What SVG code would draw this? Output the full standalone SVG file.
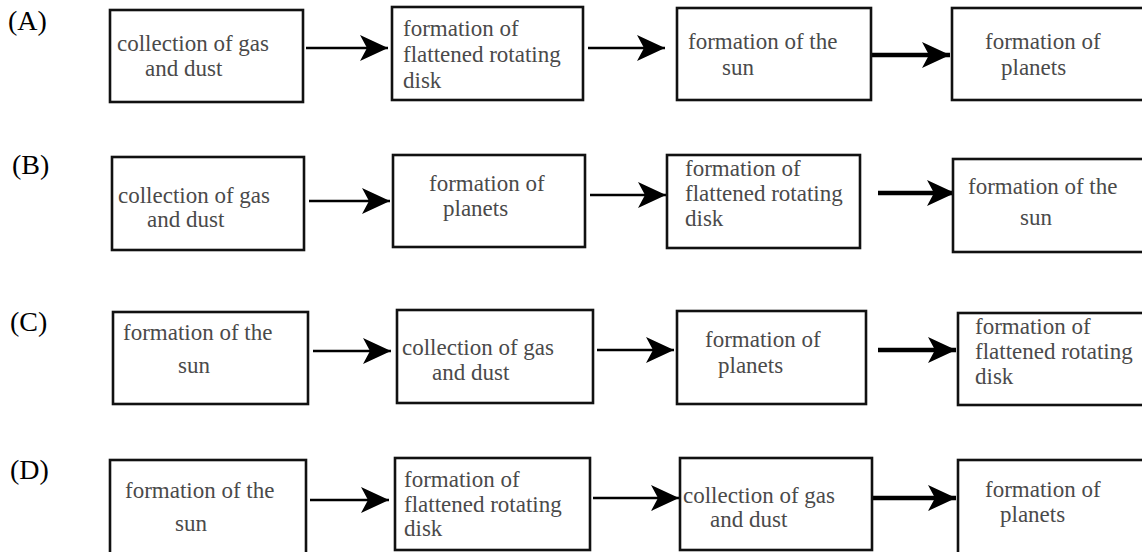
<svg xmlns="http://www.w3.org/2000/svg" width="1142" height="552" viewBox="0 0 1142 552">
<style>
.box{fill:#fff;stroke:#111;stroke-width:2.6}
.t{font-size:23px;fill:#4a4a4a}
.lbl{font-size:28px;fill:#000}
.c{stroke:#000;stroke-width:2.5;fill:none}
.ck{stroke:#000;stroke-width:4.5;fill:none}
</style>
<defs>
<marker id="ah" markerUnits="userSpaceOnUse" markerWidth="30" markerHeight="28" refX="28" refY="13" orient="auto">
<path d="M0,0 L28,13 L0,26 L7,13 Z" fill="#000"/>
</marker>
</defs>
<rect width="1142" height="552" fill="#fff"/>
<g font-family="Liberation Serif, Times New Roman, Noto Serif, serif">
<g id="labels">
<text class="lbl" x="8" y="30">(A)</text>
<text class="lbl" x="12" y="174">(B)</text>
<text class="lbl" x="10" y="331">(C)</text>
<text class="lbl" x="10" y="479">(D)</text>
</g>
<g id="connectors">
<line class="c" x1="306" y1="48" x2="388" y2="48" marker-end="url(#ah)"/>
<line class="c" x1="588" y1="48" x2="665" y2="48" marker-end="url(#ah)"/>
<line class="ck" x1="871" y1="55" x2="950" y2="55" marker-end="url(#ah)"/>
<line class="c" x1="309" y1="201" x2="390" y2="201" marker-end="url(#ah)"/>
<line class="c" x1="590" y1="195" x2="666" y2="195" marker-end="url(#ah)"/>
<line class="ck" x1="878" y1="193" x2="955" y2="193" marker-end="url(#ah)"/>
<line class="c" x1="313" y1="351" x2="391" y2="351" marker-end="url(#ah)"/>
<line class="c" x1="597" y1="350" x2="674" y2="350" marker-end="url(#ah)"/>
<line class="ck" x1="878" y1="350" x2="956" y2="350" marker-end="url(#ah)"/>
<line class="c" x1="310" y1="500" x2="389" y2="500" marker-end="url(#ah)"/>
<line class="c" x1="593" y1="498" x2="679" y2="498" marker-end="url(#ah)"/>
<line class="ck" x1="866" y1="498" x2="956" y2="498" marker-end="url(#ah)"/>
</g>
<g id="A1"><rect class="box" x="110" y="10" width="193" height="92"/><text class="t" x="117" y="51">collection of gas</text><text class="t" x="145" y="76">and dust</text></g>
<g id="A2"><rect class="box" x="392" y="7" width="191" height="93"/><text class="t" x="403" y="36">formation of</text><text class="t" x="403" y="62">flattened rotating</text><text class="t" x="403" y="88">disk</text></g>
<g id="A3"><rect class="box" x="677" y="8" width="194" height="92"/><text class="t" x="688" y="49">formation of the</text><text class="t" x="722" y="75">sun</text></g>
<g id="A4"><rect class="box" x="952" y="8" width="200" height="92"/><text class="t" x="985" y="49">formation of</text><text class="t" x="1001" y="75">planets</text></g>
<g id="B1"><rect class="box" x="112" y="157" width="192" height="93"/><text class="t" x="118" y="203">collection of gas</text><text class="t" x="147" y="227">and dust</text></g>
<g id="B2"><rect class="box" x="393" y="155" width="192" height="92"/><text class="t" x="429" y="191">formation of</text><text class="t" x="443" y="216">planets</text></g>
<g id="B3"><rect class="box" x="667" y="155" width="193" height="93"/><text class="t" x="685" y="176">formation of</text><text class="t" x="685" y="201">flattened rotating</text><text class="t" x="685" y="226">disk</text></g>
<g id="B4"><rect class="box" x="953" y="159" width="200" height="93"/><text class="t" x="968" y="194">formation of the</text><text class="t" x="1020" y="225">sun</text></g>
<g id="C1"><rect class="box" x="113" y="312" width="195" height="92"/><text class="t" x="123" y="340">formation of the</text><text class="t" x="178" y="373">sun</text></g>
<g id="C2"><rect class="box" x="397" y="310" width="196" height="93"/><text class="t" x="402" y="355">collection of gas</text><text class="t" x="432" y="380">and dust</text></g>
<g id="C3"><rect class="box" x="677" y="311" width="189" height="93"/><text class="t" x="705" y="347">formation of</text><text class="t" x="718" y="373">planets</text></g>
<g id="C4"><rect class="box" x="958" y="313" width="200" height="92"/><text class="t" x="975" y="334">formation of</text><text class="t" x="975" y="359">flattened rotating</text><text class="t" x="975" y="384">disk</text></g>
<g id="D1"><rect class="box" x="110" y="460" width="196" height="100"/><text class="t" x="125" y="498">formation of the</text><text class="t" x="175" y="531">sun</text></g>
<g id="D2"><rect class="box" x="395" y="458" width="195" height="92"/><text class="t" x="404" y="487">formation of</text><text class="t" x="404" y="512">flattened rotating</text><text class="t" x="404" y="536">disk</text></g>
<g id="D3"><rect class="box" x="680" y="458" width="192" height="92"/><text class="t" x="683" y="503">collection of gas</text><text class="t" x="710" y="527">and dust</text></g>
<g id="D4"><rect class="box" x="958" y="460" width="200" height="100"/><text class="t" x="985" y="497">formation of</text><text class="t" x="1000" y="522">planets</text></g>
</g>
</svg>
